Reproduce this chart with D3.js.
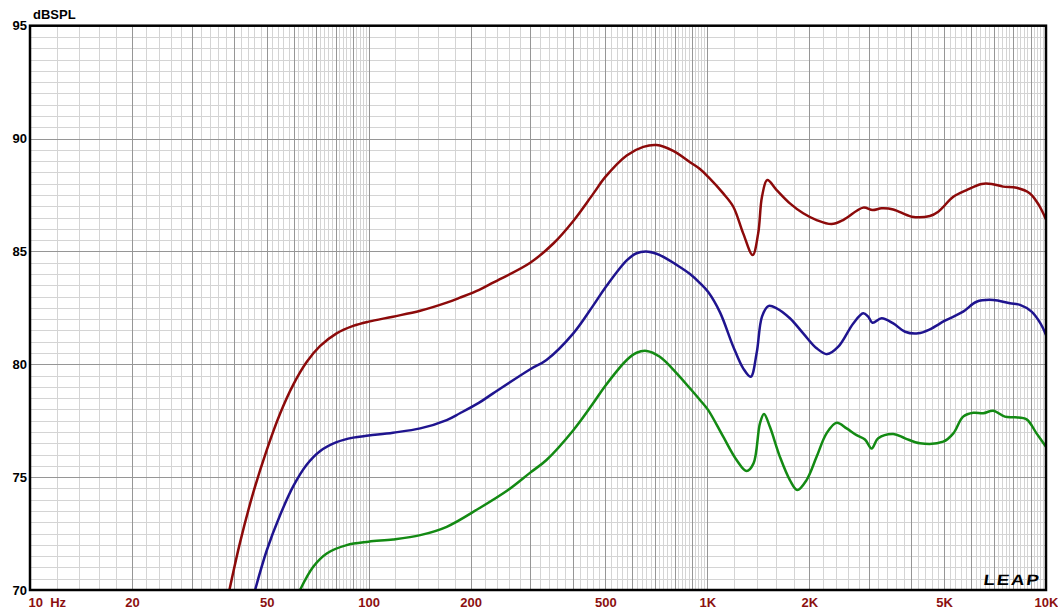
<!DOCTYPE html>
<html>
<head>
<meta charset="utf-8">
<script src="https://cdn.jsdelivr.net/npm/d3@7"></script>
<style>
  html, body { margin: 0; padding: 0; background: #ffffff; }
  svg { display: block; }
  text { font-family: "Liberation Sans", Arial, sans-serif; }
</style>
</head>
<body>
<svg id="chart" width="1058" height="610"></svg>
<script>
// ---- data ----
const redFreq = [38.8, 41.7, 45.6, 50, 54.7, 59.9, 65.6, 71.8, 80.4, 90, 100, 118, 142, 170, 186, 212, 233, 300, 351, 402, 460, 500, 578, 647, 708, 793, 889, 951, 1006, 1114, 1193, 1276, 1361, 1413, 1450, 1503, 1602, 1753, 1919, 2102, 2328, 2518, 2886, 3076, 3271, 3540, 4012, 4541, 4806, 5326, 5831, 6457, 6909, 7475, 8186, 8965, 9530, 10000];
const redDb   = [70.0, 72.1, 74.3, 76.2, 77.8, 79.1, 80.1, 80.8, 81.37, 81.7, 81.89, 82.11, 82.37, 82.73, 82.95, 83.3, 83.62, 84.5, 85.35, 86.35, 87.55, 88.3, 89.25, 89.63, 89.71, 89.45, 88.95, 88.65, 88.3, 87.57, 86.98, 85.8, 84.84, 85.8, 87.42, 88.16, 87.72, 87.13, 86.69, 86.39, 86.21, 86.39, 86.94, 86.83, 86.91, 86.86, 86.54, 86.57, 86.76, 87.42, 87.72, 87.99, 87.99, 87.87, 87.82, 87.57, 87.05, 86.42];

const blueFreq = [46.2, 50, 54.7, 59.9, 65.6, 71.8, 80.4, 90, 100, 118, 142, 170, 186, 212, 233, 300, 335, 402, 460, 500, 578, 618, 669, 724, 812, 889, 951, 1006, 1090, 1193, 1276, 1343, 1398, 1450, 1514, 1602, 1753, 1919, 2102, 2259, 2436, 2697, 2886, 2985, 3076, 3271, 3540, 3836, 4194, 4541, 5029, 5693, 6237, 6982, 7826, 8380, 9068, 9630, 10000];
const blueDb   = [70.0, 71.75, 73.3, 74.6, 75.55, 76.15, 76.55, 76.75, 76.84, 76.97, 77.16, 77.53, 77.83, 78.3, 78.71, 79.78, 80.19, 81.37, 82.6, 83.4, 84.6, 84.92, 84.99, 84.84, 84.4, 84.0, 83.6, 83.2, 82.3, 80.78, 79.82, 79.45, 80.49, 82.11, 82.58, 82.48, 82.04, 81.37, 80.71, 80.45, 80.78, 81.81, 82.26, 82.11, 81.84, 82.04, 81.81, 81.44, 81.37, 81.55, 81.93, 82.33, 82.77, 82.85, 82.7, 82.63, 82.33, 81.81, 81.3];

const greenFreq = [62.7, 68.6, 75.2, 86.1, 100, 118, 142, 170, 212, 258, 300, 335, 402, 460, 500, 578, 618, 662, 724, 812, 889, 951, 1006, 1114, 1220, 1306, 1369, 1430, 1470, 1530, 1638, 1753, 1843, 1963, 2102, 2249, 2408, 2578, 2759, 2920, 3055, 3196, 3540, 3836, 4243, 4972, 5326, 5693, 6104, 6528, 6982, 7560, 8093, 8765, 9376, 10000];
const greenDb   = [70.0, 71.03, 71.62, 71.99, 72.14, 72.24, 72.43, 72.8, 73.62, 74.43, 75.2, 75.76, 77.08, 78.27, 79.05, 80.19, 80.51, 80.59, 80.33, 79.6, 78.93, 78.42, 77.97, 76.79, 75.76, 75.27, 75.61, 77.38, 77.8, 77.23, 75.9, 74.87, 74.43, 74.87, 75.9, 76.94, 77.41, 77.16, 76.86, 76.67, 76.27, 76.72, 76.91, 76.72, 76.5, 76.57, 76.94, 77.68, 77.85, 77.83, 77.94, 77.68, 77.65, 77.56, 76.94, 76.35];

const xTickValues = [10, 20, 50, 100, 200, 500, 1000, 2000, 5000, 10000];
const xTickLabels = ["10  Hz", "20", "50", "100", "200", "500", "1K", "2K", "5K", "10K"];
const yTickValues = [70, 75, 80, 85, 90, 95];
const yTitle = "dBSPL";

// ---- layout ----
const svg = d3.select("#chart");
const L = 30, R = 1046, T = 25.7, B = 590;
const x = d3.scaleLog().domain([10, 10000]).range([L, R]);
const y = d3.scaleLinear().domain([70, 95]).range([B, T]);

// grid values
const vMinor = [], vMajor = [];
[10, 100, 1000].forEach(d => {
  for (let k = 10; k <= 100; k += 2) {
    const v = k * d / 10;
    if (k % 10 === 0) vMajor.push(v); else vMinor.push(v);
  }
});
const hMinor = [], hMajor = [];
for (let k = 140; k <= 190; k++) {
  const v = k / 2;
  if (k % 10 === 0) hMajor.push(v); else hMinor.push(v);
}

const grid = svg.append("g");
const gridAxis = (axisFn, scale, vals, len, color) => {
  const g = grid.append("g")
    .call(axisFn(scale).tickValues(vals).tickSize(len).tickFormat(""));
  g.select(".domain").remove();
  g.selectAll("line").attr("stroke", color).attr("stroke-width", 1).attr("shape-rendering", "crispEdges");
  return g;
};
gridAxis(d3.axisBottom, x, vMinor, B - T, "#d4d4d4").attr("transform", `translate(0,${T})`);
gridAxis(d3.axisRight, y, hMinor, R - L, "#d4d4d4").attr("transform", `translate(${L},0)`);
gridAxis(d3.axisBottom, x, vMajor, B - T, "#969696").attr("transform", `translate(0,${T})`);
gridAxis(d3.axisRight, y, hMajor, R - L, "#969696").attr("transform", `translate(${L},0)`);

// curves
svg.append("clipPath").attr("id", "clip")
  .append("rect").attr("x", L).attr("y", T).attr("width", R - L).attr("height", B - T);
const line = d3.line()
  .x(d => x(d[0])).y(d => y(d[1]))
  .curve(d3.curveCatmullRom.alpha(0.5));
const series = [
  { f: redFreq, v: redDb, c: "#8c0a0a" },
  { f: blueFreq, v: blueDb, c: "#1f148f" },
  { f: greenFreq, v: greenDb, c: "#138a13" }
];
const cg = svg.append("g").attr("clip-path", "url(#clip)");
series.forEach(s => {
  cg.append("path")
    .datum(s.f.map((f, i) => [f, s.v[i]]))
    .attr("fill", "none")
    .attr("stroke", s.c)
    .attr("stroke-width", 2.5)
    .attr("stroke-linejoin", "round")
    .attr("d", line);
});

// frame
svg.append("rect").attr("x", L).attr("y", T).attr("width", R - L).attr("height", B - T)
  .attr("fill", "none").attr("stroke", "#000").attr("stroke-width", 2.5);

// y axis labels
const yAx = svg.append("g").attr("transform", `translate(${L - 3},0)`)
  .call(d3.axisLeft(y).tickValues(yTickValues).tickSize(0).tickPadding(0).tickFormat(d3.format("d")));
yAx.select(".domain").remove();
yAx.selectAll("text").attr("font-size", 13).attr("font-weight", "bold").attr("fill", "#000")
  .attr("font-family", "Liberation Sans, Arial, sans-serif");

svg.append("text").attr("x", L + 3).attr("y", 19).text(yTitle)
  .attr("font-size", 13).attr("font-weight", "bold").attr("fill", "#000");

// x axis labels
const xAx = svg.append("g").attr("transform", `translate(0,${B})`)
  .call(d3.axisBottom(x).tickValues(xTickValues).tickSize(0).tickPadding(8)
    .tickFormat((d, i) => xTickLabels[i]));
xAx.select(".domain").remove();
xAx.selectAll("text").attr("font-size", 13).attr("font-weight", "bold").attr("fill", "#8b1010")
  .attr("font-family", "Liberation Sans, Arial, sans-serif")
  .style("white-space", "pre").attr("xml:space", "preserve")
  .attr("text-anchor", (d, i) => i === 0 ? "start" : "middle")
  .attr("dx", (d, i) => i === 0 ? -2 : 0);

// LEAP logo
svg.append("text").attr("transform", "translate(983,585) skewX(-8)").text("LEAP")
  .attr("font-size", 15).attr("font-weight", "bold")
  .attr("font-family", "DejaVu Sans, sans-serif").attr("letter-spacing", 1.5)
  .attr("fill", "#000").attr("textLength", 57).attr("lengthAdjust", "spacingAndGlyphs");
</script>
</body>
</html>
